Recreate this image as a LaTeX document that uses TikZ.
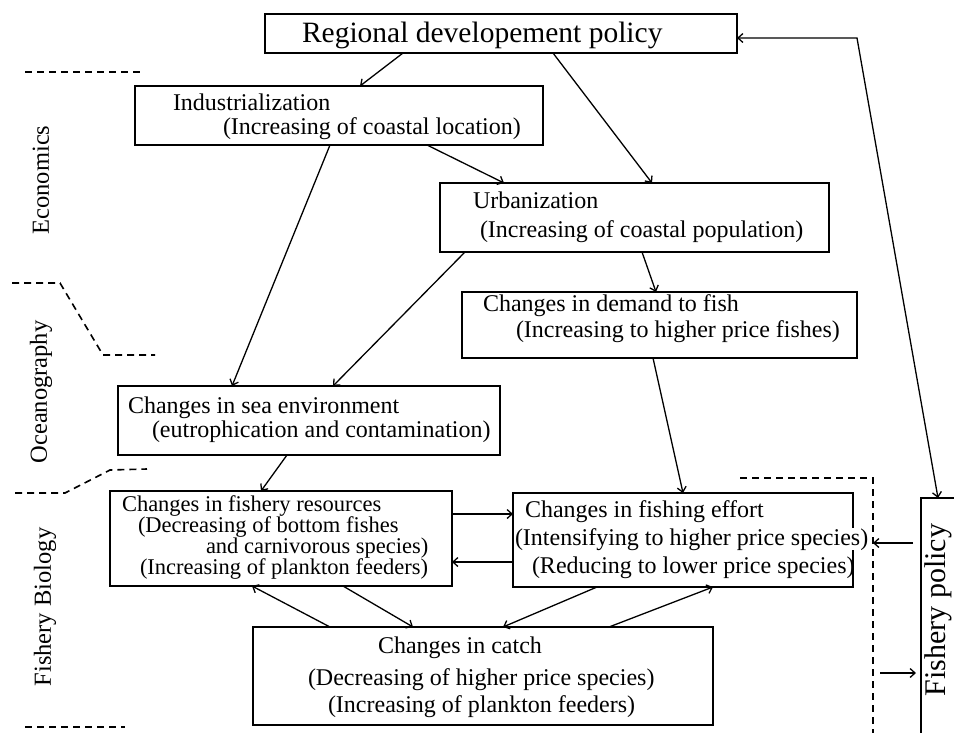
\documentclass[tikz,border=0pt]{standalone}
\usepackage{fontspec}
\setmainfont{Liberation Serif}
\usetikzlibrary{arrows.meta,calc}
\begin{document}
\begin{tikzpicture}[x=1pt,y=-1pt,
  box/.style={draw, line width=1.7pt, anchor=north west, inner sep=0pt, outer sep=0pt},
  txt/.style={anchor=base west, inner sep=0pt, outer sep=0pt, font=\fontsize{24}{26}\selectfont},
  smalltxt/.style={anchor=base west, inner sep=0pt, outer sep=0pt, font=\fontsize{22.5}{24}\selectfont},
  big/.style={anchor=base west, inner sep=0pt, outer sep=0pt, font=\fontsize{29.5}{32}\selectfont},
  side/.style={rotate=90, inner sep=0pt, outer sep=0pt, font=\fontsize{24.5}{26}\selectfont},
  arr/.style={line width=1.3pt, -{Straight Barb[length=5pt,width=9pt]}},
  darr/.style={line width=1.3pt, {Straight Barb[length=5pt,width=9pt]}-{Straight Barb[length=5pt,width=9pt]}},
  bnd/.style={line width=1.6pt, dash pattern=on 7pt off 5pt},
]
\clip (0,0) rectangle (954,732);
\fill[white] (0,0) rectangle (954,732);

% boxes
\node[box, minimum width=472pt, minimum height=39pt] (reg) at (265,14) {};
\node[box, minimum width=408pt, minimum height=59pt] (ind) at (135,86) {};
\node[box, minimum width=389pt, minimum height=69pt] (urb) at (440,183) {};
\node[box, minimum width=395pt, minimum height=66pt] (dem) at (462,292) {};
\node[box, minimum width=382pt, minimum height=69pt] (sea) at (118,386) {};
\node[box, minimum width=342pt, minimum height=95pt] (res) at (110,491) {};
\node[box, minimum width=340pt, minimum height=94pt] (eff) at (513,493) {};
\node[box, minimum width=460pt, minimum height=98pt] (cat) at (253,627) {};
\node[box, minimum width=60pt, minimum height=260pt] (pol) at (921,498) {};

% texts
\node[big] (regt) at (302,42) {Regional developement policy};
\node[txt] (ind1) at (173,110) {Industrialization};
\node[txt] (ind2) at (223,134) {(Increasing of coastal location)};
\node[txt] (urb1) at (473,208) {Urbanization};
\node[txt] (urb2) at (480,237) {(Increasing of coastal population)};
\node[txt] (dem1) at (483,311) {Changes in demand to fish};
\node[txt] (dem2) at (516,337) {(Increasing to higher price fishes)};
\node[txt] (sea1) at (128,413) {Changes in sea environment};
\node[txt] (sea2) at (152,437) {(eutrophication and contamination)};
\node[smalltxt] (res1) at (122,511) {Changes in fishery resources};
\node[smalltxt] (res2) at (138,532) {(Decreasing of bottom fishes};
\node[smalltxt] (res3) at (206,553) {and carnivorous species)};
\node[smalltxt] (res4) at (140,574) {(Increasing of plankton feeders)};
\node[txt] (eff1) at (525,517) {Changes in fishing effort};
\node[txt, fill=white] (eff2) at (515,545) {(Intensifying to higher price species)};
\node[txt] (eff3) at (532,573) {(Reducing to lower price species)};
\node[txt] (cat1) at (378,653) {Changes in catch};
\node[txt] (cat2) at (308,685) {(Decreasing of higher price species)};
\node[txt] (cat3) at (328,712) {(Increasing of plankton feeders)};
\node[rotate=90, inner sep=0pt, font=\fontsize{30}{32}\selectfont] (polt) at (938,610) {Fishery policy};

% side labels
\node[side] (econ) at (41,180) {Economics};
\node[side] (ocean) at (41,392) {Oceanography};
\node[side] (fbio) at (45,607) {Fishery Biology};

% boundaries
\draw[bnd] (25,72) -- (140,72);
\draw[bnd] (12,283) -- (60,283) -- (103,355) -- (155,355);
\draw[bnd] (15,493) -- (65,493) -- (110,470) -- (147,469);
\draw[bnd] (25,727) -- (125,727);
\coordinate (dr) at (873,478);
\draw[bnd] (740,478) -- (dr) -- (873,740);

% connectors
\draw[arr] ([xshift=138pt]reg.south west) -- ([xshift=225pt]ind.north west);
\draw[arr] ([xshift=288pt]reg.south west) -- ([xshift=212pt]urb.north west);
\draw[arr] ([xshift=292pt]ind.south west) -- ([xshift=64pt]urb.north west);
\draw[arr] ([xshift=195pt]ind.south west) -- ([xshift=114pt]sea.north west);
\draw[arr] ([xshift=25pt]urb.south west) -- ([xshift=215pt]sea.north west);
\draw[arr] ([xshift=202pt]urb.south west) -- ([xshift=194pt]dem.north west);
\draw[arr] ([xshift=191pt]dem.south west) -- ([xshift=170pt]eff.north west);
\draw[arr] ([xshift=169pt]sea.south west) -- ([xshift=151pt]res.north west);

\coordinate (r1) at ([yshift=-23pt]res.north east);
\coordinate (r2) at ([yshift=-71pt]res.north east);
\draw[arr] (r1) -- (r1 -| eff.west);
\draw[arr] (r2 -| eff.west) -- (r2);

\draw[arr] ([xshift=233pt]res.south west) -- ([xshift=160pt]cat.north west);
\draw[arr] ([xshift=77pt]cat.north west) -- ([xshift=142pt]res.south west);
\draw[arr] ([xshift=84pt]eff.south west) -- ([xshift=250pt]cat.north west);
\draw[arr] ([xshift=356pt]cat.north west) -- ([xshift=200pt]eff.south west);

\coordinate (corner) at (857,38);
\draw[darr] (corner -| reg.east) -- (corner) -- ([xshift=17pt]pol.north west);

\coordinate (p1) at ([yshift=-45pt]pol.north west);
\coordinate (q1) at (p1 -| dr);
\draw[arr] ([xshift=-8pt]p1) -- (q1);
\coordinate (p2) at ([yshift=-175pt]pol.north west);
\coordinate (q2) at (p2 -| dr);
\draw[arr] ([xshift=7pt]q2) -- ([xshift=-5pt]p2);
\end{tikzpicture}
\end{document}
